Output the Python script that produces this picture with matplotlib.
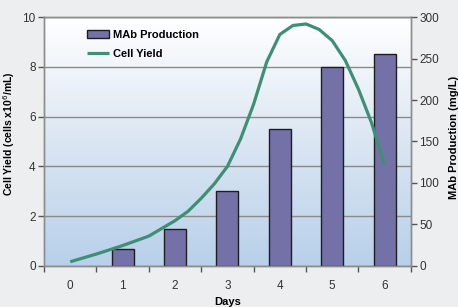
import numpy as np
import matplotlib
matplotlib.use('Agg')
import matplotlib.pyplot as plt
from matplotlib.colors import LinearSegmentedColormap

# values
days = [0, 1, 2, 3, 4, 5, 6]
mab_days = [1, 2, 3, 4, 5, 6]
mab_production = [20, 45, 90, 165, 240, 255]          # mg/L
yield_days = [0, 0.5, 1, 1.5, 2, 2.25, 2.5, 2.75, 3, 3.25, 3.5, 3.75, 4,
              4.25, 4.5, 4.75, 5, 5.25, 5.5, 5.75, 6]
cell_yield = [0.17, 0.48, 0.82, 1.2, 1.82, 2.2, 2.72, 3.3, 4.0, 5.1, 6.5, 8.2, 9.3,
              9.66, 9.72, 9.5, 9.05, 8.25, 7.1, 5.75, 4.05]

plt.rcParams['font.family'] = ['Liberation Sans', 'DejaVu Sans']
tick_col = '#333333'
edge_col = '#8c8c8c'

fig = plt.figure(figsize=(4.58, 3.07), dpi=100, facecolor='#edeef0')
ax1 = fig.add_axes([0.0961, 0.1336, 0.801, 0.811])
ax2 = ax1.twinx()

# background gradient (white top -> light blue bottom)
cmap = LinearSegmentedColormap.from_list('bg', ['#b8d0ea', '#dbe6f3', '#ffffff'])
grad = np.linspace(0, 1, 256).reshape(-1, 1)
ax1.imshow(grad, cmap=cmap, origin='lower', extent=[0, 1, 0, 1],
           transform=ax1.transAxes, aspect='auto', zorder=0)

ax1.set_xlim(-0.5, 6.5)
ax1.set_ylim(0, 10)
ax1.set_yticks(np.arange(0, 11, 2))
ax1.yaxis.grid(True, color='#8a8a8a', lw=1.0)
ax1.set_axisbelow(True)
ax2.patch.set_visible(False)

# bars on the right scale, line on the left scale (drawn on top)
bars = ax2.bar(mab_days, mab_production, width=0.42, color='#7471a8',
               edgecolor='#1e1e1e', linewidth=1.0, label='MAb Production', zorder=2)
line, = ax2.plot(yield_days, cell_yield, color='#3f8f75', lw=2.3,
                 transform=ax1.transData, label='Cell Yield', zorder=3,
                 solid_capstyle='butt', solid_joinstyle='round')
ax2.set_xlim(-0.5, 6.5)
ax2.set_ylim(0, 300)
ax2.set_yticks(np.arange(0, 301, 50))

# x ticks between categories, labels at categories
ax1.set_xticks(np.arange(-0.5, 7, 1))
ax1.set_xticklabels([])
ax1.set_xticks(days, minor=True)
ax1.set_xticklabels([str(d) for d in days], minor=True)
ax1.tick_params(axis='x', which='minor', length=0, pad=10, labelsize=8.5, labelcolor=tick_col)
ax1.tick_params(axis='x', which='major', length=4, width=1, color='#555555', direction='out')
ax1.tick_params(axis='y', length=4, width=1, color='#555555', labelsize=8.5, labelcolor=tick_col, pad=2)
ax2.tick_params(axis='y', length=4, width=1, color='#555555', labelsize=8.5, labelcolor=tick_col, pad=2)

for ax in (ax1, ax2):
    for s in ax.spines.values():
        s.set_color(edge_col)
        s.set_linewidth(1.0)

ax1.set_xlabel('Days', fontsize=8, fontweight='bold', labelpad=4)
ax1.set_ylabel('Cell Yield (cells x10$^6$/mL)', fontsize=7.5, fontweight='bold')
ax1.yaxis.set_label_coords(-0.074, 0.53)
ax2.set_ylabel('MAb Production (mg/L)', fontsize=8, fontweight='bold')
ax2.yaxis.set_label_coords(1.103, 0.515)

ax2.legend([bars, line], ['MAb Production', 'Cell Yield'], loc='upper left',
           bbox_to_anchor=(0.105, 0.965), borderaxespad=0, frameon=False,
           prop={'size': 8, 'weight': 'bold'}, handlelength=2.0,
           handletextpad=0.3, labelspacing=0.8)

fig.savefig('out.png', dpi=100, facecolor=fig.get_facecolor())
